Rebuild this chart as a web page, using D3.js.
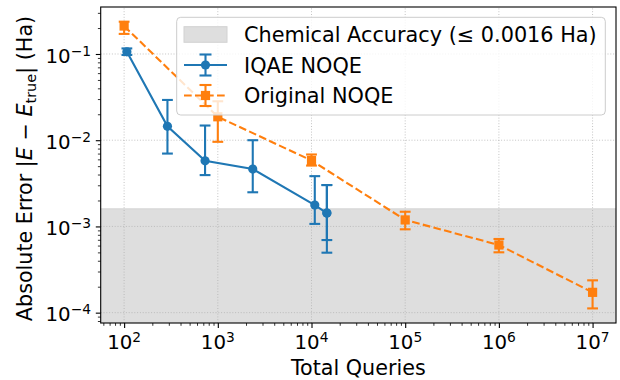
<!DOCTYPE html>
<html>
<head>
<meta charset="utf-8">
<script src="https://cdn.jsdelivr.net/npm/d3@7"></script>
<style>
  body { margin: 0; background: #fff; }
  svg { font-family: "DejaVu Sans", sans-serif; }
</style>
</head>
<body>
<div id="chart"></div>
<script>
/* CONSTANTS AND GLOBALS */
const width = 620,
  height = 380,
  margin = { top: 7, right: 4, bottom: 57, left: 100.7 };

// values
const iqaeQueries = [107, 290, 731, 2360, 10840, 14590, 14590];
const iqaeError = [0.106, 0.0145, 0.00577, 0.00463, 0.00177, 0.00143, 0.00143];
const iqaeUpper = [0.116, 0.0293, 0.0148, 0.0100, 0.00383, 0.00302, 0.00302];
const iqaeLower = [0.0974, 0.0070, 0.00394, 0.00249, 0.00107, 0.000695, 0.000496];

const origQueries = [100, 1000, 10000, 100000, 1000000, 10000000];
const origError = [0.211, 0.0187, 0.00582, 0.00119, 0.000609, 0.000172];
const origUpper = [0.237, 0.0283, 0.00683, 0.00148, 0.000715, 0.000237];
const origLower = [0.171, 0.00958, 0.00508, 0.000926, 0.000501, 0.000112];

const chemAccuracy = 0.0016;

const xTickExps = [2, 3, 4, 5, 6, 7];
const yTickExps = [-1, -2, -3, -4];
const legendLabels = ["Chemical Accuracy (\u2264 0.0016 Ha)", "IQAE NOQE", "Original NOQE"];

const blue = "#1f77b4", orange = "#ff7f0e", shade = "#dedede";

// zip the arrays into rows for d3
const iqaeData = iqaeQueries.map((q, i) => ({ q, e: iqaeError[i], hi: iqaeUpper[i], lo: iqaeLower[i] }));
const origData = origQueries.map((q, i) => ({ q, e: origError[i], hi: origUpper[i], lo: origLower[i] }));

/* SVG */
const svg = d3.select("#chart")
  .append("svg")
  .attr("width", width)
  .attr("height", height);

/* SCALES */
const x = d3.scaleLog()
  .domain([Math.pow(10, 1.75), Math.pow(10, 7.25)])
  .range([margin.left, width - margin.right]);

const y = d3.scaleLog()
  .domain([Math.pow(10, -4.12), Math.pow(10, -0.455)])
  .range([height - margin.bottom, margin.top]);

const [x0, x1] = x.range();
const [y0, y1] = y.range();

// minor tick positions (2..9 x each decade) inside a domain
function minorTicks(scale) {
  const [a, b] = scale.domain();
  const out = [];
  for (let e = Math.floor(Math.log10(a)); e <= Math.ceil(Math.log10(b)); e++) {
    for (let m = 2; m <= 9; m++) {
      const v = m * Math.pow(10, e);
      if (v >= a && v <= b) out.push(v);
    }
  }
  return out;
}

/* CHEMICAL ACCURACY BAND */
svg.append("rect")
  .attr("x", x0)
  .attr("y", y(chemAccuracy))
  .attr("width", x1 - x0)
  .attr("height", y0 - y(chemAccuracy))
  .attr("fill", shade);

svg.append("line")
  .attr("x1", x0).attr("x2", x1)
  .attr("y1", y(chemAccuracy)).attr("y2", y(chemAccuracy))
  .attr("stroke", "#d2d2d2")
  .attr("stroke-width", 1);

/* GRID */
const grid = svg.append("g")
  .attr("stroke", "#b0b0b0")
  .attr("stroke-opacity", 0.75)
  .attr("stroke-width", 1)
  .attr("stroke-dasharray", "1,1.8");

grid.selectAll("line.gx")
  .data(xTickExps)
  .join("line")
  .attr("class", "gx")
  .attr("x1", d => x(Math.pow(10, d))).attr("x2", d => x(Math.pow(10, d)))
  .attr("y1", y0).attr("y2", y1);

grid.selectAll("line.gy")
  .data(yTickExps)
  .join("line")
  .attr("class", "gy")
  .attr("y1", d => y(Math.pow(10, d))).attr("y2", d => y(Math.pow(10, d)))
  .attr("x1", x0).attr("x2", x1);

/* AXES */
const xMajor = d3.axisBottom(x).tickValues(xTickExps.map(d => Math.pow(10, d))).tickSize(4.9).tickFormat("");
const xMinor = d3.axisBottom(x).tickValues(minorTicks(x)).tickSize(2.8).tickFormat("");
const yMajor = d3.axisLeft(y).tickValues(yTickExps.map(d => Math.pow(10, d))).tickSize(4.9).tickFormat("");
const yMinor = d3.axisLeft(y).tickValues(minorTicks(y)).tickSize(2.8).tickFormat("");

function styleAxis(g, w) {
  g.select(".domain").remove();
  g.selectAll(".tick line").attr("stroke", "#000").attr("stroke-width", w);
}

svg.append("g").attr("transform", `translate(0, ${y0})`).call(xMajor).call(g => styleAxis(g, 1.1));
svg.append("g").attr("transform", `translate(0, ${y0})`).call(xMinor).call(g => styleAxis(g, 0.8));
svg.append("g").attr("transform", `translate(${x0}, 0)`).call(yMajor).call(g => styleAxis(g, 1.1));
svg.append("g").attr("transform", `translate(${x0}, 0)`).call(yMinor).call(g => styleAxis(g, 0.8));

// tick labels as 10^n
svg.selectAll("text.xtick")
  .data(xTickExps)
  .join("text")
  .attr("class", "xtick")
  .attr("x", d => x(Math.pow(10, d)))
  .attr("y", 349.3)
  .attr("text-anchor", "middle")
  .attr("font-size", 19.8)
  .each(function (d) {
    const t = d3.select(this);
    t.append("tspan").text("10");
    t.append("tspan").attr("dy", -7).attr("font-size", 13.8).text(d);
  });

svg.selectAll("text.ytick")
  .data(yTickExps)
  .join("text")
  .attr("class", "ytick")
  .attr("x", 91)
  .attr("y", d => y(Math.pow(10, d)) + 8.7)
  .attr("text-anchor", "end")
  .attr("font-size", 19.8)
  .each(function (d) {
    const t = d3.select(this);
    t.append("tspan").text("10");
    t.append("tspan").attr("dy", -7).attr("font-size", 13.8).text("\u2212" + Math.abs(d));
  });

// axis titles
svg.append("text")
  .attr("x", (x0 + x1) / 2)
  .attr("y", 375)
  .attr("text-anchor", "middle")
  .attr("font-size", 20.7)
  .text("Total Queries");

const yTitle = svg.append("text")
  .attr("transform", `translate(31.5, 168.5) rotate(-90)`)
  .attr("text-anchor", "middle")
  .attr("font-size", 20.7);
yTitle.append("tspan").text("Absolute Error |");
yTitle.append("tspan").attr("font-style", "italic").text("E");
yTitle.append("tspan").text(" \u2212 ");
yTitle.append("tspan").attr("font-style", "italic").text("E");
yTitle.append("tspan").attr("font-size", 14.5).attr("dy", 4).text("true");
yTitle.append("tspan").attr("dy", -4).text("| (Ha)");

/* SERIES */
const capHalf = 5.4;

function drawSeries(data, color, cls, dashed, marker) {
  const g = svg.append("g").attr("class", cls);

  const line = d3.line().x(d => x(d.q)).y(d => y(d.e));
  g.append("path")
    .datum(data)
    .attr("d", line)
    .attr("fill", "none")
    .attr("stroke", color)
    .attr("stroke-width", 2.1)
    .attr("stroke-dasharray", dashed ? "7.7,3.3" : null);

  const bars = g.selectAll("g.bar")
    .data(data)
    .join("g")
    .attr("class", "bar")
    .attr("stroke", color)
    .attr("stroke-width", 2.1);

  bars.append("line")
    .attr("x1", d => x(d.q)).attr("x2", d => x(d.q))
    .attr("y1", d => y(d.lo)).attr("y2", d => y(d.hi));
  bars.append("line")
    .attr("x1", d => x(d.q) - capHalf).attr("x2", d => x(d.q) + capHalf)
    .attr("y1", d => y(d.lo)).attr("y2", d => y(d.lo));
  bars.append("line")
    .attr("x1", d => x(d.q) - capHalf).attr("x2", d => x(d.q) + capHalf)
    .attr("y1", d => y(d.hi)).attr("y2", d => y(d.hi));

  if (marker === "circle") {
    g.selectAll("circle")
      .data(data)
      .join("circle")
      .attr("cx", d => x(d.q))
      .attr("cy", d => y(d.e))
      .attr("r", 4.6)
      .attr("fill", color);
  } else {
    g.selectAll("rect")
      .data(data)
      .join("rect")
      .attr("x", d => x(d.q) - 4.6)
      .attr("y", d => y(d.e) - 4.6)
      .attr("width", 9.2)
      .attr("height", 9.2)
      .attr("fill", color);
  }
}

drawSeries(iqaeData, blue, "iqae", false, "circle");
drawSeries(origData, orange, "orig", true, "square");

/* FRAME */
svg.append("rect")
  .attr("x", x0)
  .attr("y", y1)
  .attr("width", x1 - x0)
  .attr("height", y0 - y1)
  .attr("fill", "none")
  .attr("stroke", "#000")
  .attr("stroke-width", 1.1);

/* LEGEND */
const legend = svg.append("g").attr("class", "legend");

legend.append("rect")
  .attr("x", 176.7)
  .attr("y", 17.3)
  .attr("width", 428.6)
  .attr("height", 97.7)
  .attr("rx", 4)
  .attr("fill", "#fff")
  .attr("fill-opacity", 0.8)
  .attr("stroke", "#cccccc")
  .attr("stroke-width", 1);

const rowY = [34.5, 65, 95.5];
const hx0 = 184, hx1 = 227, hxm = (hx0 + hx1) / 2;

legend.append("rect")
  .attr("x", hx0)
  .attr("y", rowY[0] - 7.8)
  .attr("width", hx1 - hx0)
  .attr("height", 15.6)
  .attr("fill", shade)
  .attr("stroke", "#d2d2d2")
  .attr("stroke-width", 1);

[[blue, false, "circle"], [orange, true, "square"]].forEach(([color, dashed, marker], i) => {
  const cy = rowY[i + 1];
  const h = legend.append("g").attr("stroke", color).attr("stroke-width", 2.1);
  h.append("line").attr("x1", hx0).attr("x2", hx1).attr("y1", cy).attr("y2", cy)
    .attr("stroke-dasharray", dashed ? "7.7,3.3" : null);
  h.append("line").attr("x1", hxm).attr("x2", hxm).attr("y1", cy - 10.5).attr("y2", cy + 10.5);
  h.append("line").attr("x1", hxm - 6).attr("x2", hxm + 6).attr("y1", cy - 10.5).attr("y2", cy - 10.5);
  h.append("line").attr("x1", hxm - 6).attr("x2", hxm + 6).attr("y1", cy + 10.5).attr("y2", cy + 10.5);
  if (marker === "circle") {
    legend.append("circle").attr("cx", hxm).attr("cy", cy).attr("r", 4.6).attr("fill", color);
  } else {
    legend.append("rect").attr("x", hxm - 4.6).attr("y", cy - 4.6).attr("width", 9.2).attr("height", 9.2).attr("fill", color);
  }
});

legend.selectAll("text")
  .data(legendLabels)
  .join("text")
  .attr("x", 244)
  .attr("y", (d, i) => rowY[i] + 7.8)
  .attr("font-size", 20.8)
  .attr("fill", "#000")
  .text(d => d);
</script>
</body>
</html>
